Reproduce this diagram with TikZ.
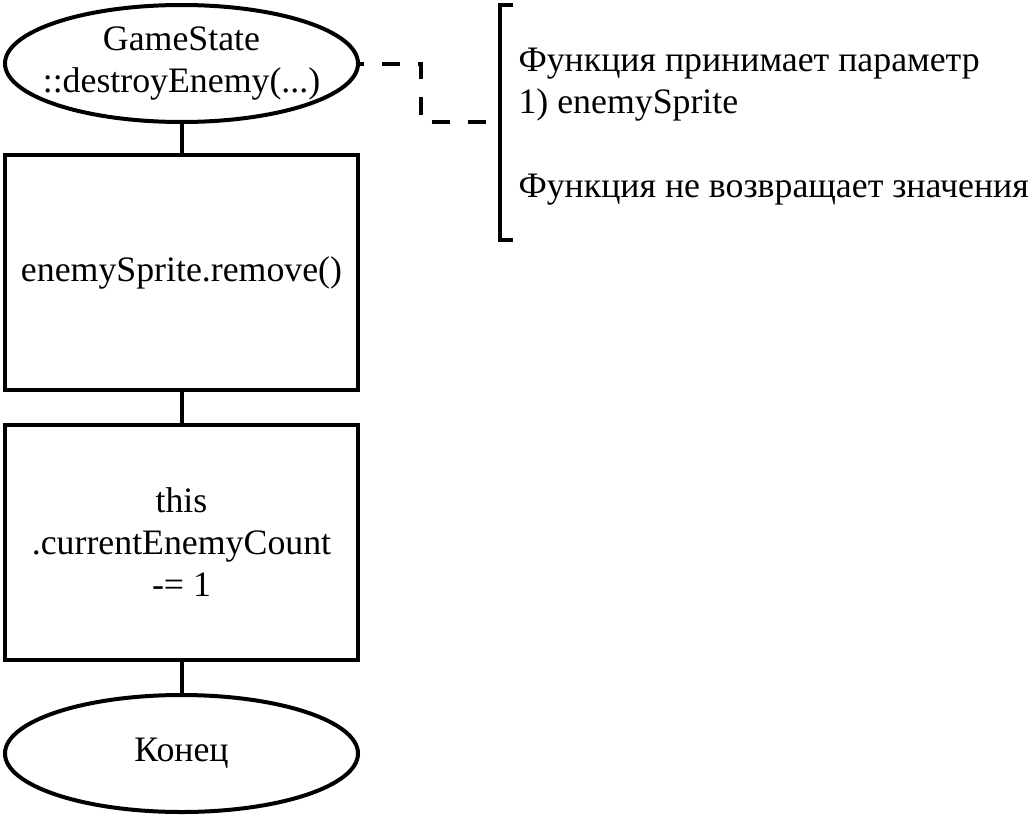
\documentclass[tikz,border=0pt]{standalone}
\usepackage{fontspec}
\setmainfont{Liberation Serif}
\usetikzlibrary{shapes.geometric}
\begin{document}
\begin{tikzpicture}[x=1pt,y=-1pt,
  every node/.style={font=\fontsize{35.8}{42}\selectfont, align=center},
  term/.style={draw, line width=4pt, ellipse, minimum width=353pt, minimum height=117pt, inner sep=-30pt},
  proc/.style={draw, line width=4pt, rectangle, minimum width=353pt, minimum height=235pt, inner sep=0pt},
  flow/.style={line width=4pt},
  note/.style={line width=4pt, dash pattern=on 18pt off 18pt, dash phase=14pt}]
\useasboundingbox (0,0) rectangle (1032,816);
\node[term] (start) at (181.5,63.5) {GameState\\::destroyEnemy(...)};
\node[proc] (p1) at (181.5,272.5) {enemySprite.remove()};
\node[proc] (p2) at (181.5,542.5) {this\\.currentEnemyCount\\-= 1};
\node[term] (end) at (181.5,753.5) {Конец};
\draw[flow] (start) -- (p1);
\draw[flow] (p1) -- (p2);
\draw[flow] (p2) -- (end);
\coordinate (bt) at (513,5);
\coordinate (bb) at (513,240);
\coordinate (bm) at (500,122);
\draw[line width=4pt] (bt) -- (500,5) -- (500,240) -- (bb);
\draw[note] (start.east) -- (421,63.5) -- (421,122) -- (bm);
\node[anchor=west, align=left] (txt) at (515,127) {Функция принимает параметр\\1) enemySprite\\[42pt]Функция не возвращает значения};
\end{tikzpicture}
\end{document}
